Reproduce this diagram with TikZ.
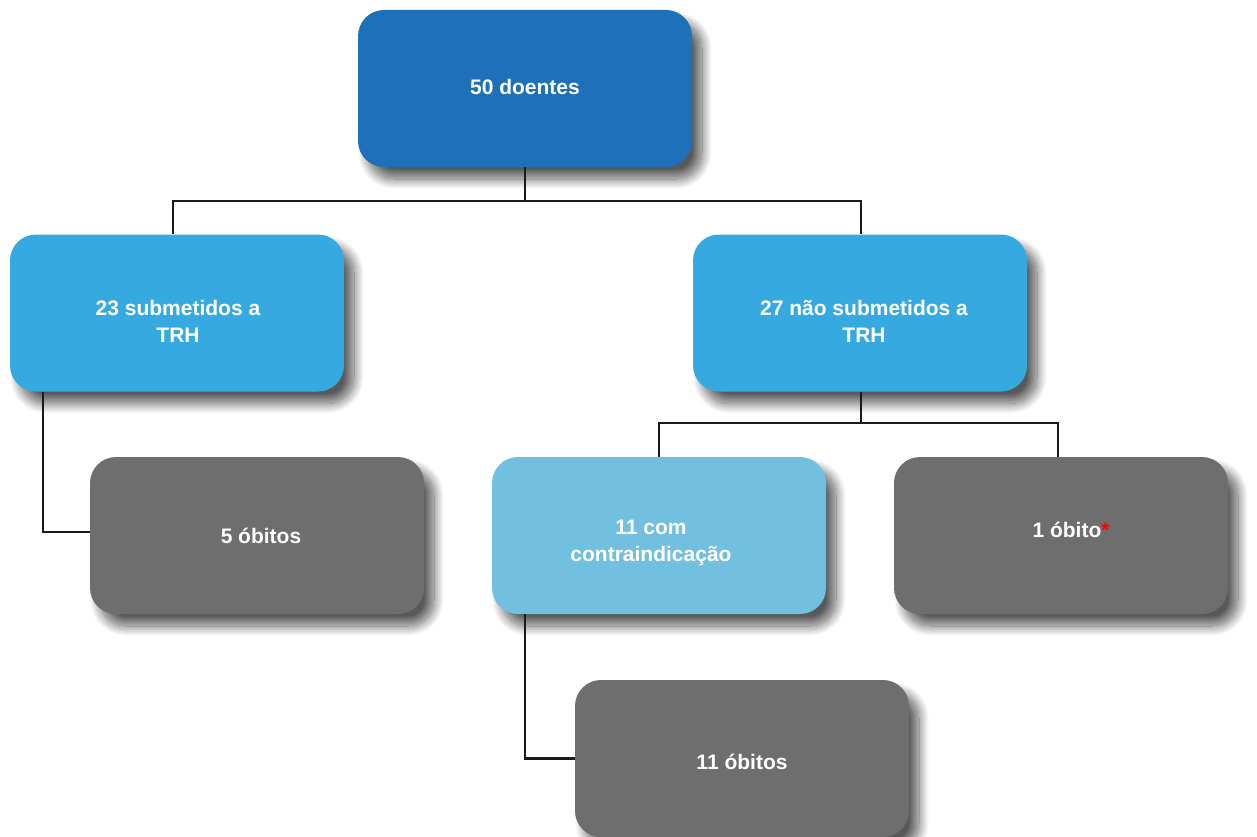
\documentclass[tikz,border=0pt]{standalone}
\usepackage{fontspec}
\setmainfont{Liberation Sans}
\usetikzlibrary{shadows.blur,calc}
\definecolor{dblue}{HTML}{1E71B8}
\definecolor{mblue}{HTML}{36A9E0}
\definecolor{lblue}{HTML}{72C0E0}
\definecolor{dgray}{HTML}{6E6E6E}
\definecolor{lnk}{HTML}{1A1A1A}
\tikzset{
  box/.style={rectangle, rounded corners=26pt, minimum width=334pt, minimum height=157pt, inner sep=0pt, draw=none,
    blur shadow={shadow xshift=10pt, shadow yshift=-12pt, shadow blur radius=10pt, shadow blur steps=20, shadow opacity=65}},
  txt/.style={text=white, font=\fontsize{21pt}{27pt}\selectfont\bfseries, align=center, inner sep=0pt},
  link/.style={draw=lnk, line width=2.2pt}
}
\begin{document}
\begin{tikzpicture}[x=1pt,y=-1pt]
\useasboundingbox (0,0) rectangle (1257,837);
\coordinate (j1) at (525,201);
\coordinate (j1l) at (173,201);
\coordinate (j1r) at (861,201);
\coordinate (j2) at (861,423);
\coordinate (j2l) at (659,423);
\coordinate (j2r) at (1058,423);
\coordinate (c5) at (43,532);
\coordinate (c11) at (525,758.5);
% boxes
\node[box, fill=dblue] (top) at (525,88.5) {};
\node[box, fill=mblue] (left) at (177,313) {};
\node[box, fill=mblue] (right) at (860,313) {};
\node[box, fill=dgray] (five) at (257,535.5) {};
\node[box, fill=lblue] (contra) at (659,535.5) {};
\node[box, fill=dgray] (one) at (1061,535.5) {};
\node[box, fill=dgray] (eleven) at (742,758.5) {};
% links
\draw[link] (top.south) -- (j1);
\draw[link] (j1l |- left.north) -- (j1l) -- (j1r) -- (j1r |- right.north);
\draw[link] (c5 |- left.south) -- (c5) -- (five.west |- c5);
\draw[link] (j2 |- right.south) -- (j2);
\draw[link] (j2l |- contra.north) -- (j2l) -- (j2r) -- (j2r |- one.north);
\draw[link] (c11 |- contra.south) -- (c11) -- (eleven.west);
% texts
\node[txt] (ttop) at (525,87) {50 doentes};
\node[txt] (tleft) at (178,321.5) {23 submetidos a\\TRH};
\node[txt] (tright) at (864,321.5) {27 não submetidos a\\TRH};
\node[txt] (tfive) at (261,536) {5 óbitos};
\node[txt] (tcontra) at (651,543) {11 com\\contraindicação};
\node[txt] (tone) at (1071,530) {1 óbito\textcolor{red}{*}};
\node[txt] (televen) at (742,762) {11 óbitos};
\end{tikzpicture}
\end{document}
